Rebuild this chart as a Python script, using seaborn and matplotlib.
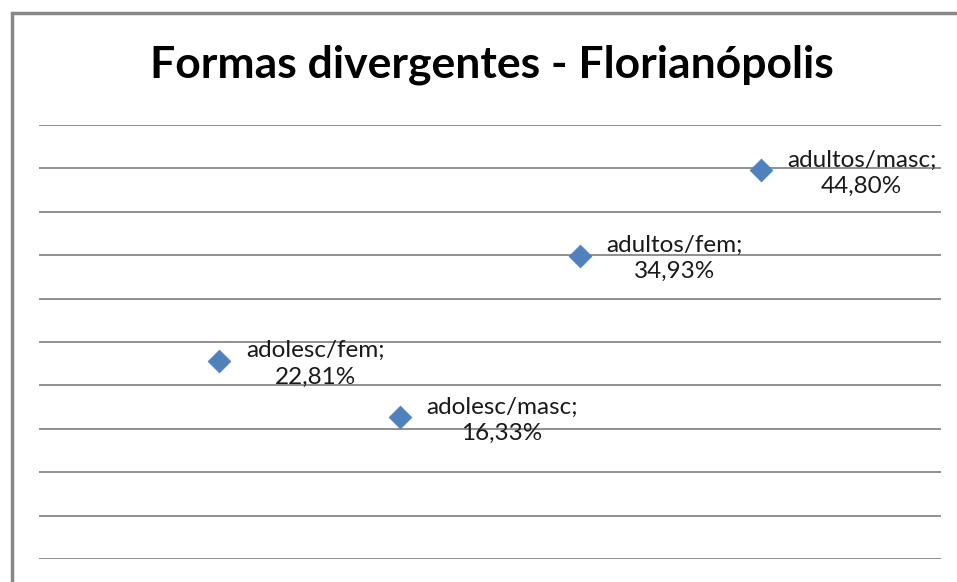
import numpy as np
import pandas as pd
import matplotlib
matplotlib.use("Agg")
import matplotlib.pyplot as plt
from matplotlib.patches import Rectangle
import seaborn as sns

categorias = ["adolesc/fem", "adolesc/masc", "adultos/fem", "adultos/masc"]
percentuais = [22.81, 16.33, 34.93, 44.80]
titulo = "Formas divergentes - Florianópolis"

sns.set_style("white")
plt.rcParams['font.family'] = ['Lato', 'DejaVu Sans']

df = pd.DataFrame({'grupo': categorias, 'valor': percentuais})

fig = plt.figure(figsize=(9.57, 5.82), dpi=100)
ax = fig.add_axes([0.0408, 0.0395, 0.9425, 0.7457])

sns.scatterplot(data=df, x='grupo', y='valor', marker='D', s=135,
                color='#4F81BD', edgecolor='#4F81BD', linewidth=0.5,
                ax=ax, zorder=3)

ax.set_xlim(-1, 4)
ax.set_ylim(0, 50)
ax.set_yticks(np.arange(0, 51, 5))
ax.yaxis.grid(True, color='#878787', linewidth=1.3)
ax.xaxis.grid(False)
ax.set_axisbelow(True)
for sp in ax.spines.values():
    sp.set_visible(False)
ax.set_xticks([])
ax.tick_params(left=False, labelleft=False)
ax.set_xlabel('')
ax.set_ylabel('')

# rotulos de dados estilo Excel
for i, (nome, v) in enumerate(zip(categorias, percentuais)):
    txt = f"{nome};\n{v:.2f}%".replace('.', ',')
    ax.annotate(txt, xy=(i, v), xytext=(19, -2), textcoords='offset points',
                ha='left', va='center', multialignment='center',
                fontsize=17.5, color='#1a1a1a', linespacing=1.3)

fig.text(0.514, 0.888, titulo, ha='center', va='center',
         fontsize=32, fontweight='bold', color='black')

# moldura do grafico (borda cortada a direita/embaixo)
fig.patches.append(Rectangle((12 / 957, -0.1), 1.2, (582 - 13) / 582 + 0.1,
                             transform=fig.transFigure, fill=False,
                             edgecolor='#878787', linewidth=2.5))

fig.savefig('out.png', dpi=100)
